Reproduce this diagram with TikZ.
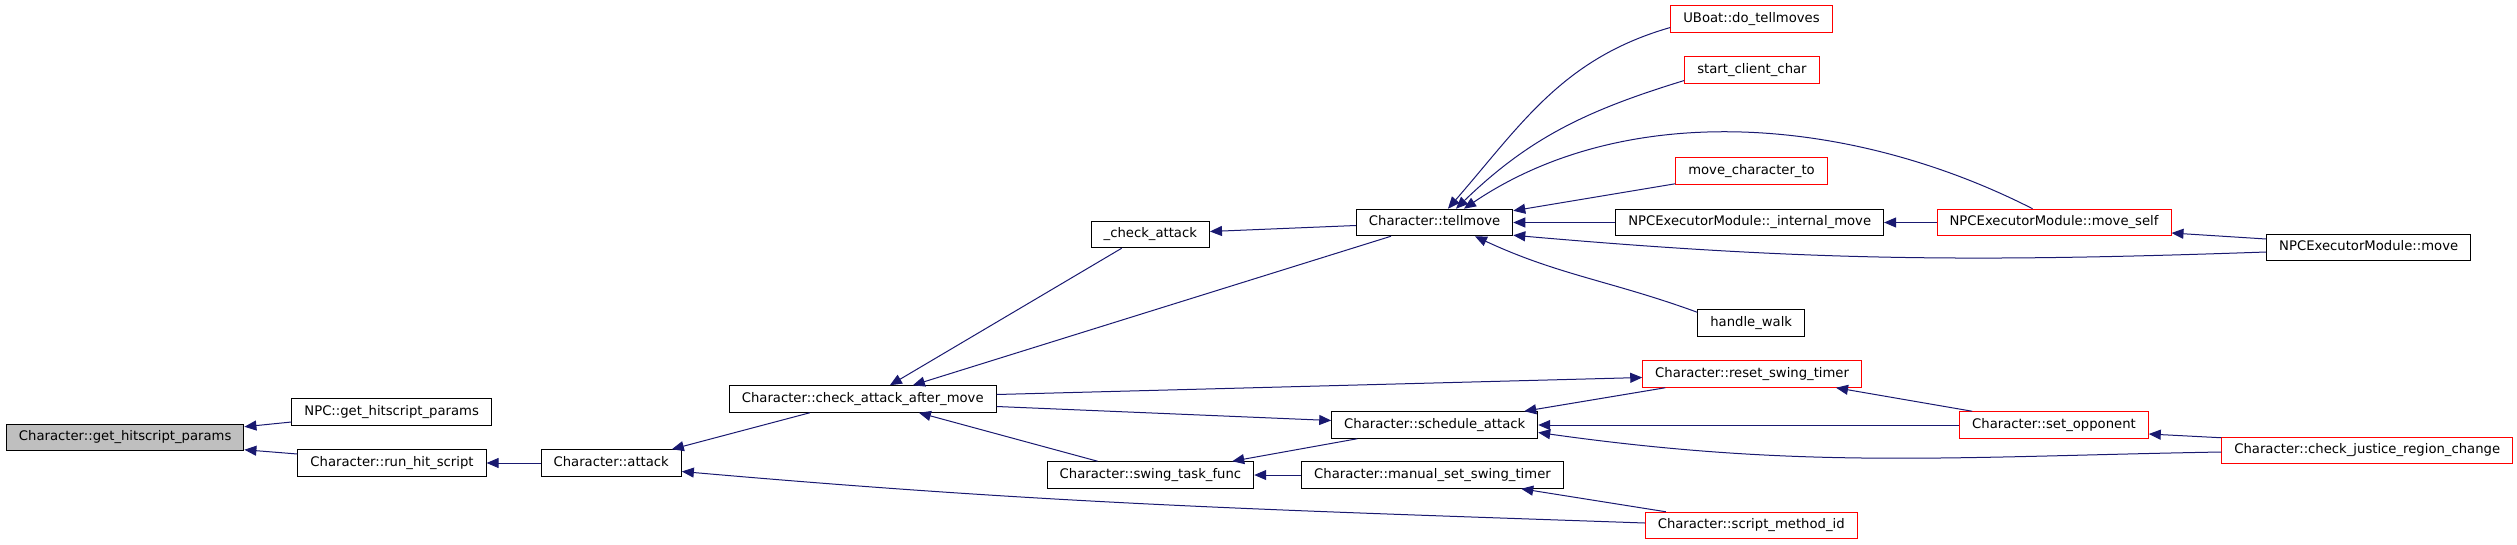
\documentclass[tikz,border=0pt]{standalone}
\usepackage{fontspec}
\setmainfont{DejaVu Sans}
\usepackage{tikz}
\usetikzlibrary{positioning,arrows.meta}
\definecolor{edgeblue}{RGB}{25,25,112}
\definecolor{curgrey}{RGB}{191,191,191}

\begin{document}
\begin{tikzpicture}[x=1pt,y=1pt,
    fn/.style={draw=black,line width=1pt,inner xsep=12.5pt,inner ysep=0pt,
      minimum height=26.5pt,text height=9.6pt,text depth=2.8pt,
      font=\fontsize{13.2pt}{15pt}\selectfont},
    fnred/.style={fn,draw=red},
    fncur/.style={fn,fill=curgrey},
    calls/.style={draw=edgeblue,line width=1pt,-{Triangle[length=12pt,width=10pt]}}]
  \useasboundingbox (0,0) rectangle (2517,-544);

  \node[fncur,anchor=west] (get) at (6,-437.5) {Character::get\_hitscript\_params};
  \node[fn,right=47pt of get,yshift=25.5pt] (npc) {NPC::get\_hitscript\_params};
  \node[fn,right=53pt of get,yshift=-25.5pt] (run) {Character::run\_hit\_script};
  \node[fn,right=54pt of run] (attack) {Character::attack};
  \node[fn,right=47pt of attack,yshift=64pt] (cam) {Character::check\_attack\_after\_move};
  \node[fn,right=50pt of cam,yshift=-76pt] (swing) {Character::swing\_task\_func};
  \node[fn,right=94pt of cam,yshift=164.5pt] (chk) {\_check\_attack};
  \node[fn,right=146pt of chk,yshift=12pt] (tell) {Character::tellmove};
  \node[fn,right=77pt of swing,yshift=50pt] (sched) {Character::schedule\_attack};
  \node[fn,right=47pt of swing] (manual) {Character::manual\_set\_swing\_timer};

  \node[fn,right=102pt of tell] (internal) {NPCExecutorModule::\_internal\_move};
  \node[fnred,right=157pt of tell,yshift=203.5pt] (uboat) {UBoat::do\_tellmoves};
  \node[fnred,right=171pt of tell,yshift=152.5pt] (startc) {start\_client\_char};
  \node[fnred,right=162pt of tell,yshift=51.5pt] (movechar) {move\_character\_to};
  \node[fn,right=184pt of tell,yshift=-100.5pt] (walk) {handle\_walk};
  \node[fnred,right=104pt of sched,yshift=51pt] (reset) {Character::reset\_swing\_timer};
  \node[fnred,right=81pt of manual,yshift=-50.5pt] (smi) {Character::script\_method\_id};
  \node[fnred,right=52.5pt of internal] (mself) {NPCExecutorModule::move\_self};
  \node[fn,right=94.7pt of mself,yshift=-25pt] (npcmove) {NPCExecutorModule::move};
  \node[fnred,right=421pt of sched] (setopp) {Character::set\_opponent};
  \node[fnred,right=72.6pt of setopp,yshift=-25.5pt] (justice) {Character::check\_justice\_region\_change};

  % callers point back at the function they call
  \draw[calls] ([yshift=-10pt]npc.west) -- ([yshift=-3pt]get.north east);
  \draw[calls] ([yshift=9pt]run.west) -- ([yshift=1.5pt]get.south east);
  \draw[calls] (attack.west) -- (run.east);
  \draw[calls] ([xshift=81pt]cam.south west) -- ([xshift=-10pt]attack.north east);
  \draw[calls] ([yshift=2.5pt]smi.west) to[out=178,in=-5] ([yshift=-8.5pt]attack.east);
  \draw[calls] ([xshift=31pt]chk.south west) -- ([xshift=161pt]cam.north west);
  \draw[calls] ([xshift=35pt]tell.south west) -- ([xshift=184pt]cam.north west);
  \draw[calls] ([xshift=51pt]swing.north west) -- ([xshift=190pt]cam.south west);
  \draw[calls] ([yshift=-3pt]tell.west) -- ([yshift=3pt]chk.east);
  \draw[calls] ([yshift=4.5pt]cam.east) -- ([yshift=-3.5pt]reset.west);
  \draw[calls] ([yshift=-7.5pt]cam.east) -- ([yshift=4.5pt]sched.west);
  \draw[calls] ([xshift=26pt]sched.south west) -- ([xshift=-22pt]swing.north east);
  \draw[calls] (manual.west) -- (swing.east);

  \draw[calls] (internal.west) -- (tell.east);
  \draw[calls] ([yshift=1pt]movechar.south west) -- ([yshift=-2pt]tell.north east);
  \draw[calls] ([yshift=-8.5pt]uboat.west) to[out=196,in=49] ([xshift=92pt]tell.north west);
  \draw[calls] ([yshift=-10.5pt]startc.west) to[out=197,in=44] ([xshift=100pt]tell.north west);
  \draw[calls] ([xshift=96pt]mself.north west) to[out=153,in=34,looseness=0.9] ([xshift=108pt]tell.north west);
  \draw[calls] ([yshift=-4.5pt]npcmove.west) to[out=182,in=-5] ([yshift=1pt]tell.south east);
  \draw[calls] ([yshift=-3pt]walk.north west) to[out=160,in=-25] ([xshift=119pt]tell.south west);
  \draw[calls] (mself.west) -- (internal.east);
  \draw[calls] ([yshift=8.5pt]npcmove.west) -- ([yshift=-10.5pt]mself.east);

  \draw[calls] ([xshift=23pt]reset.south west) -- ([xshift=-14pt]sched.north east);
  \draw[calls] ([xshift=13pt]setopp.north west) -- ([xshift=-26pt]reset.south east);
  \draw[calls] (setopp.west) -- (sched.east);
  \draw[calls] ([yshift=-1.5pt]justice.west) to[out=181,in=-8] ([yshift=-7.5pt]sched.east);
  \draw[calls] ([yshift=-1pt]justice.north west) -- ([yshift=-9pt]setopp.east);
  \draw[calls] ([xshift=21pt]smi.north west) -- ([xshift=220pt]manual.south west);
\end{tikzpicture}
\end{document}
